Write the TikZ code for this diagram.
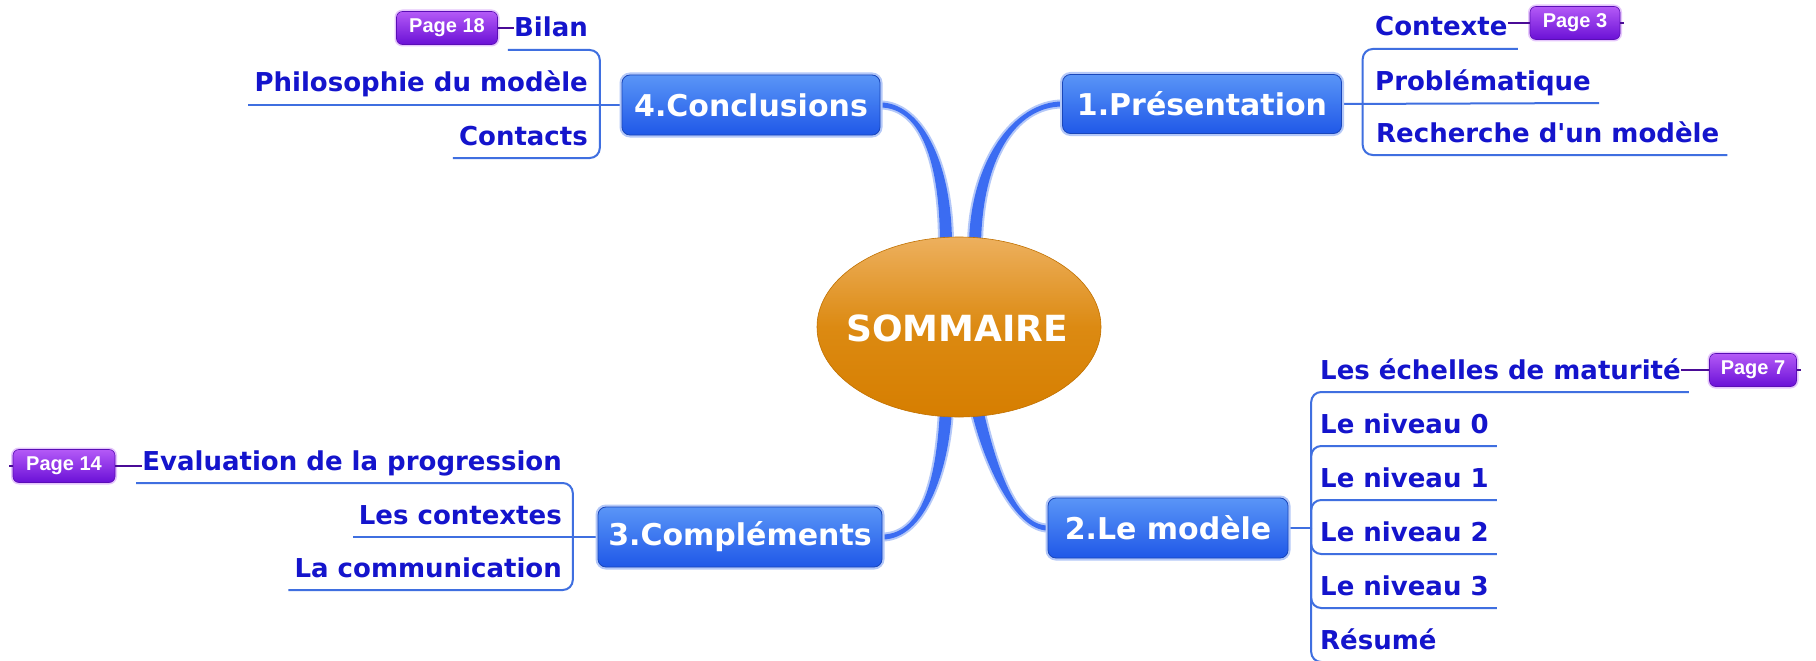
\documentclass[tikz,border=0pt]{standalone}
\usepackage{fontspec}
\setmainfont{DejaVu Sans}[Ligatures=TeXOff]
\newfontfamily\tagfont{Liberation Sans}
\usetikzlibrary{calc,shapes.geometric}
\definecolor{txtblue}{HTML}{1414CC}
\definecolor{lineblue}{HTML}{3F6FE0}
\definecolor{branchblue}{HTML}{3B6CF2}
\definecolor{halo}{HTML}{B4C8F8}
\definecolor{boxtop}{HTML}{5A95F7}
\definecolor{boxbot}{HTML}{1F58E8}
\definecolor{tagtop}{HTML}{B45AF7}
\definecolor{tagbot}{HTML}{6A10D6}
\definecolor{orgtop}{HTML}{EDB05E}
\definecolor{orgmid}{HTML}{DC8A12}
\definecolor{orgbot}{HTML}{D67E00}
\tikzset{
 mainbox/.style={rectangle, rounded corners=8pt, top color=boxtop, bottom color=boxbot,
   draw=boxbot!80!black, line width=0.8pt, text=white,
   font=\fontsize{30}{34}\selectfont\bfseries, inner sep=0pt,
   preaction={draw=halo, line width=5pt}},
 child/.style={text=txtblue, font=\fontsize{26}{30}\selectfont\bfseries, inner sep=0pt},
 uline/.style={draw=lineblue, line width=2pt},
 tagbox/.style={rectangle, rounded corners=6pt, top color=tagtop, bottom color=tagbot,
   draw=tagbot!85!black, line width=0.6pt, text=white,
   font=\tagfont\fontsize{20}{24}\selectfont\bfseries, inner sep=0pt, minimum height=33pt,
   preaction={draw=tagtop!35, line width=4pt}},
 tagline/.style={draw=tagbot!70!black, line width=1.6pt},
 branch/.style={fill=branchblue, preaction={draw=halo, line width=4pt}},
}
% #1 box end, #2 ctrl near box, #3 ctrl near root, #4 root end, #5 box-end half offset, #6 root-end half offset
\newcommand\mmbranch[6]{%
 \path[branch] ($(#1)+(#5)$) .. controls ($(#2)+(#5)$) and ($(#3)+(#6)$) .. ($(#4)+(#6)$)
   -- ($(#4)-(#6)$) .. controls ($(#3)-(#6)$) and ($(#2)-(#5)$) .. ($(#1)-(#5)$) -- cycle;}
\begin{document}
\begin{tikzpicture}[x=1pt,y=-1pt]
\useasboundingbox (0,0) rectangle (1816,661);
\clip (0,0) rectangle (1816,661);
\fill[white] (0,0) rectangle (1816,661);

% main nodes (placed first so that connectors can refer to them; redrawn on top later)
\path (959,327) node[ellipse, minimum width=284pt, minimum height=180pt, inner sep=0pt] (root) {};
\path (1202,104) node[rectangle, minimum width=279pt, minimum height=59pt, inner sep=0pt] (c1) {};
\path (1168,528) node[rectangle, minimum width=240pt, minimum height=60pt, inner sep=0pt] (c2) {};
\path (740,537) node[rectangle, minimum width=284pt, minimum height=60pt, inner sep=0pt] (c3) {};
\path (751,105) node[rectangle, minimum width=258pt, minimum height=60pt, inner sep=0pt] (c4) {};

% thick branches
\coordinate (r4) at ($(root.center)+(-13,-82)$);
\coordinate (r1) at ($(root.center)+(16,-82)$);
\coordinate (r3) at ($(root.center)+(-13,82)$);
\coordinate (r2) at ($(root.center)+(18,82)$);
\mmbranch{c4.east}{920,105}{946,160}{r4}{0,2.5}{-6,0}
\mmbranch{c1.west}{1015,104}{976,160}{r1}{0,2.5}{6,0}
\mmbranch{c3.east}{925,537}{943,470}{r3}{0,-2.5}{-6,0}
\mmbranch{c2.west}{1015,528}{990,465}{r2}{0,-2.5}{6,0}

% root ellipse
\node[ellipse, minimum width=284pt, minimum height=180pt, inner sep=0pt,
  top color=orgtop, bottom color=orgbot, middle color=orgmid,
  draw=orgbot!90!black, line width=0.6pt] (rootshape) at (root.center) {};
\node[text=white, font=\fontsize{36}{40}\selectfont\bfseries, inner sep=0pt] (rootlabel) at ($(root.center)+(-2,1)$) {SOMMAIRE};

% ---------- 1. Présentation ----------
\node[child, anchor=base west] (p1) at (1375,36) {Contexte};
\node[child, anchor=base west] (p2) at (1375,90) {Problématique};
\node[child, anchor=base west] (p3) at (1376,142) {Recherche d'un modèle};
\coordinate (j1) at ($(c1.east)+(21,0)$);
\draw[uline, rounded corners=10pt] (j1) |- ($(p1.base east)+(10,13)$);
\draw[uline] (c1.east) -- ($(p2.base east)+(8,13)$);
\draw[uline, rounded corners=10pt] (j1) |- ($(p3.base east)+(8,13)$);
\node[tagbox, minimum width=90pt] (g3) at (1575,23) {Page 3};
\draw[tagline] (g3.west) -- (g3.west -| p1.east);
\draw[tagline] (g3.east) -- ++(4,0);

% ---------- 2. Le modèle ----------
\node[child, anchor=base west] (m1) at (1320,379) {Les échelles de maturité};
\node[child, anchor=base west] (m2) at (1320,433) {Le niveau 0};
\node[child, anchor=base west] (m3) at (1320,487) {Le niveau 1};
\node[child, anchor=base west] (m4) at (1320,541) {Le niveau 2};
\node[child, anchor=base west] (m5) at (1320,595) {Le niveau 3};
\node[child, anchor=base west] (m6) at (1320,649) {Résumé};
\coordinate (j2) at ($(c2.east)+(23,0)$);
\foreach \m in {m1,m2,m3,m4,m5,m6}
  \draw[uline, rounded corners=10pt] (j2) |- ($(\m.base east)+(8,13)$);
\draw[uline] (c2.east) -- (j2);
\node[tagbox, minimum width=87pt] (g7) at (1753,370) {Page 7};
\draw[tagline] (g7.west) -- (g7.west -| m1.east);
\draw[tagline] (g7.east) -- ++(4,0);

% ---------- 3. Compléments ----------
\node[child, anchor=base east] (k1) at (562,470) {Evaluation de la progression};
\node[child, anchor=base east] (k2) at (562,524) {Les contextes};
\node[child, anchor=base east] (k3) at (562,577) {La communication};
\coordinate (j3) at ($(c3.west)+(-25,0)$);
\draw[uline, rounded corners=10pt] (j3) |- ($(k1.base west)+(-6,13)$);
\draw[uline] (c3.west) -- ($(k2.base west)+(-6,13)$);
\draw[uline, rounded corners=10pt] (j3) |- ($(k3.base west)+(-6,13)$);
\node[tagbox, minimum width=102pt] (g14) at (64,466) {Page 14};
\draw[tagline] (g14.east) -- (g14.east -| k1.west);
\draw[tagline] (g14.west) -- ++(-4,0);

% ---------- 4. Conclusions ----------
\node[child, anchor=base east] (q1) at (588,37) {Bilan};
\node[child, anchor=base east] (q2) at (588,92) {Philosophie du modèle};
\node[child, anchor=base east] (q3) at (588,145) {Contacts};
\coordinate (j4) at ($(c4.west)+(-22,0)$);
\draw[uline, rounded corners=10pt] (j4) |- ($(q1.base west)+(-6,13)$);
\draw[uline] (c4.west) -- ($(q2.base west)+(-6,13)$);
\draw[uline, rounded corners=10pt] (j4) |- ($(q3.base west)+(-6,13)$);
\node[tagbox, minimum width=101pt] (g18) at (447,28) {Page 18};
\draw[tagline] (g18.east) -- (g18.east -| q1.west);

% main boxes on top
\node[mainbox, minimum width=279pt, minimum height=59pt] (b1) at (c1.center) {1.Présentation};
\node[mainbox, minimum width=240pt, minimum height=60pt] (b2) at (c2.center) {2.Le modèle};
\node[mainbox, minimum width=284pt, minimum height=60pt] (b3) at (c3.center) {3.Compléments};
\node[mainbox, minimum width=258pt, minimum height=60pt] (b4) at (c4.center) {4.Conclusions};
\end{tikzpicture}
\end{document}
